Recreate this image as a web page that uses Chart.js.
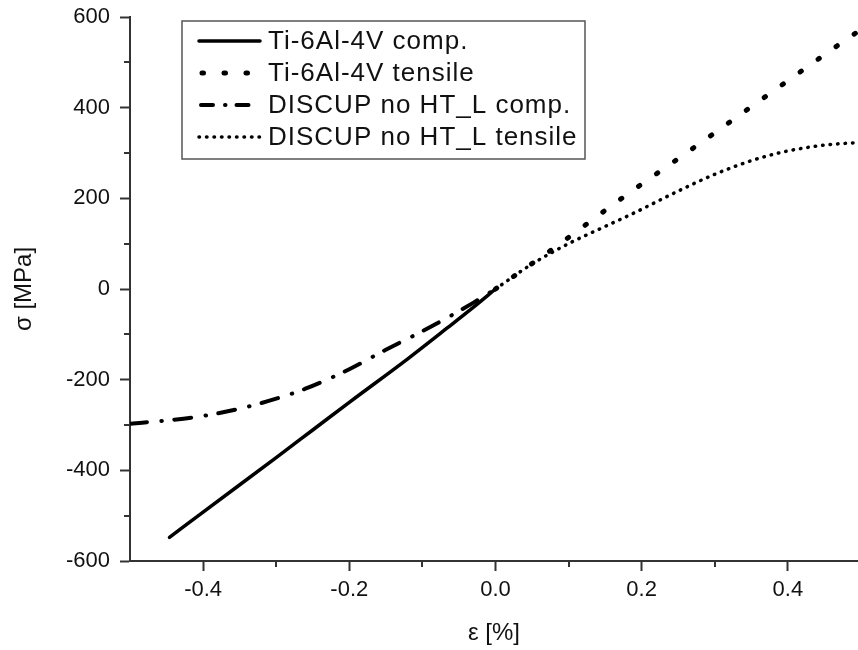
<!DOCTYPE html>
<html>
<head>
<meta charset="utf-8">
<title>Stress-strain</title>
<script src="https://cdn.jsdelivr.net/npm/chart.js@4.4.1/dist/chart.umd.min.js"></script>
<style>
  html, body { margin: 0; padding: 0; background: #fff; }
  #wrap { position: relative; width: 858px; height: 650px; }
</style>
</head>
<body>
<div id="wrap"><canvas id="ssChart"></canvas></div>
<script>
// strain in %, stress in MPa
const tiCompStrain = [-0.446, -0.4, -0.3, -0.25, -0.2, -0.12, -0.066, -0.03, 0];
const tiCompStress = [-548, -492, -372, -311, -250, -154, -86, -40, 0];

const tiTensStrain = [0, 0.078, 0.177, 0.276, 0.376, 0.476, 0.496];
const tiTensStress = [0, 88, 205, 317, 432, 546, 568];

const discCompStrain = [-0.5, -0.45, -0.4, -0.35, -0.3, -0.26, -0.2, -0.15, -0.1, -0.06, -0.03, 0];
const discCompStress = [-297, -290, -280, -264, -242, -220, -177, -134, -93, -58, -30, 0];

const discTensStrain = [0, 0.05, 0.1, 0.15, 0.19, 0.25, 0.3, 0.35, 0.39, 0.43, 0.46, 0.496];
const discTensStress = [0, 55, 100, 138, 168, 216, 253, 283, 301, 313, 319, 323];

const seriesLabels = [
    'Ti-6Al-4V comp.',
    'Ti-6Al-4V tensile',
    'DISCUP no HT_L comp.',
    'DISCUP no HT_L tensile'
];

const xTickValues = [-0.4, -0.2, 0, 0.2, 0.4];
const xMinorValues = [-0.3, -0.1, 0.1, 0.3];
const yTickValues = [-600, -400, -200, 0, 200, 400, 600];
const yMinorValues = [-500, -300, -100, 100, 300, 500];

const axisColor = '#333';
const textColor = '#111';
const fontFamily = '"Liberation Sans", Arial, Helvetica, sans-serif';

function toPoints(xs, ys) {
    return xs.map((x, i) => ({ x: x, y: ys[i] }));
}

// short outward minor ticks on both axes
const minorTicks = {
    id: 'minorTicks',
    afterDraw(chart) {
        const { ctx, scales: { x, y } } = chart;
        ctx.save();
        ctx.strokeStyle = axisColor;
        ctx.lineWidth = 2;
        ctx.beginPath();
        xMinorValues.forEach(v => {
            const px = Math.round(x.getPixelForValue(v));
            ctx.moveTo(px, y.bottom);
            ctx.lineTo(px, y.bottom + 6);
        });
        yMinorValues.forEach(v => {
            const py = Math.round(y.getPixelForValue(v));
            ctx.moveTo(x.left, py);
            ctx.lineTo(x.left - 6, py);
        });
        ctx.stroke();
        ctx.restore();
    }
};

// boxed legend inside the plot, top left
const boxLegend = {
    id: 'boxLegend',
    afterDraw(chart) {
        const { ctx, chartArea } = chart;
        const bx = chartArea.left + 52;
        const by = chartArea.top + 4;
        const bw = 403, bh = 138;
        ctx.save();
        ctx.fillStyle = '#fff';
        ctx.fillRect(bx, by, bw, bh);
        ctx.strokeStyle = '#555';
        ctx.lineWidth = 1.5;
        ctx.strokeRect(bx, by, bw, bh);
        ctx.font = '26px ' + fontFamily;
        if ('letterSpacing' in ctx) ctx.letterSpacing = '1px';
        ctx.textBaseline = 'middle';
        ctx.fillStyle = textColor;
        chart.data.datasets.forEach((ds, i) => {
            const yy = by + 20 + i * 32;
            ctx.beginPath();
            ctx.strokeStyle = ds.borderColor;
            ctx.lineWidth = ds.borderWidth;
            ctx.lineCap = ds.borderCapStyle || 'butt';
            ctx.setLineDash(ds.legendDash || ds.borderDash || []);
            ctx.lineDashOffset = ds.legendDashOffset || 0;
            ctx.moveTo(bx + 17, yy);
            ctx.lineTo(bx + 78, yy);
            ctx.stroke();
            ctx.setLineDash([]);
            ctx.fillText(ds.label, bx + 86, yy + 1);
        });
        ctx.restore();
    }
};

function initStressStrainChart() {
    const ctx = document.getElementById('ssChart');
    if (!ctx) return;

    new Chart(ctx, {
        type: 'line',
        data: {
            datasets: [
                {
                    label: seriesLabels[0],
                    data: toPoints(tiCompStrain, tiCompStress),
                    borderColor: '#000',
                    borderWidth: 3.5,
                    borderCapStyle: 'round',
                    cubicInterpolationMode: 'monotone'
                },
                {
                    label: seriesLabels[1],
                    data: toPoints(tiTensStrain, tiTensStress),
                    borderColor: '#000',
                    borderWidth: 5,
                    borderCapStyle: 'round',
                    borderDash: [1.5, 20.5],
                    legendDashOffset: -3,
                    cubicInterpolationMode: 'monotone'
                },
                {
                    label: seriesLabels[2],
                    data: toPoints(discCompStrain, discCompStress),
                    borderColor: '#000',
                    borderWidth: 4,
                    borderCapStyle: 'round',
                    borderDash: [17, 14.5, 0.5, 12.5],
                    legendDash: [12, 12, 0.5, 11],
                    legendDashOffset: -2,
                    cubicInterpolationMode: 'monotone'
                },
                {
                    label: seriesLabels[3],
                    data: toPoints(discTensStrain, discTensStress),
                    borderColor: '#000',
                    borderWidth: 3.5,
                    borderCapStyle: 'round',
                    borderDash: [0.5, 7],
                    cubicInterpolationMode: 'monotone'
                }
            ]
        },
        options: {
            responsive: true,
            maintainAspectRatio: false,
            animation: false,
            elements: { point: { radius: 0, hoverRadius: 0 } },
            layout: { padding: { top: 0, right: 0, bottom: 0, left: 0 } },
            plugins: {
                legend: { display: false },
                tooltip: { enabled: false }
            },
            scales: {
                x: {
                    type: 'linear',
                    min: -0.5,
                    max: 0.496,
                    afterBuildTicks: (scale) => {
                        scale.ticks = xTickValues.map(v => ({ value: v }));
                    },
                    afterFit: (scale) => { scale.height = 89; },
                    grid: {
                        drawOnChartArea: false,
                        tickLength: 10,
                        tickWidth: 2,
                        tickColor: axisColor
                    },
                    border: { color: axisColor, width: 2 },
                    ticks: {
                        color: textColor,
                        font: { family: fontFamily, size: 22 },
                        padding: 6,
                        maxRotation: 0,
                        autoSkip: false,
                        callback: (v) => Number(v).toFixed(1)
                    },
                    title: {
                        display: true,
                        text: 'ε [%]',
                        color: textColor,
                        font: { family: fontFamily, size: 24 },
                        padding: { top: 0, bottom: 2 }
                    }
                },
                y: {
                    type: 'linear',
                    min: -600,
                    max: 600,
                    afterBuildTicks: (scale) => {
                        scale.ticks = yTickValues.map(v => ({ value: v }));
                    },
                    afterFit: (scale) => {
                        scale.width = 130;
                        scale.paddingTop = 17;
                    },
                    grid: {
                        drawOnChartArea: false,
                        tickLength: 10,
                        tickWidth: 2,
                        tickColor: axisColor
                    },
                    border: { color: axisColor, width: 2 },
                    ticks: {
                        color: textColor,
                        font: { family: fontFamily, size: 22 },
                        padding: 10,
                        autoSkip: false,
                        callback: (v) => String(v)
                    },
                    title: {
                        display: true,
                        text: 'σ [MPa]',
                        color: textColor,
                        font: { family: fontFamily, size: 24 },
                        padding: { top: 10, bottom: 0 }
                    }
                }
            }
        },
        plugins: [minorTicks, boxLegend]
    });
}

initStressStrainChart();
</script>
</body>
</html>
